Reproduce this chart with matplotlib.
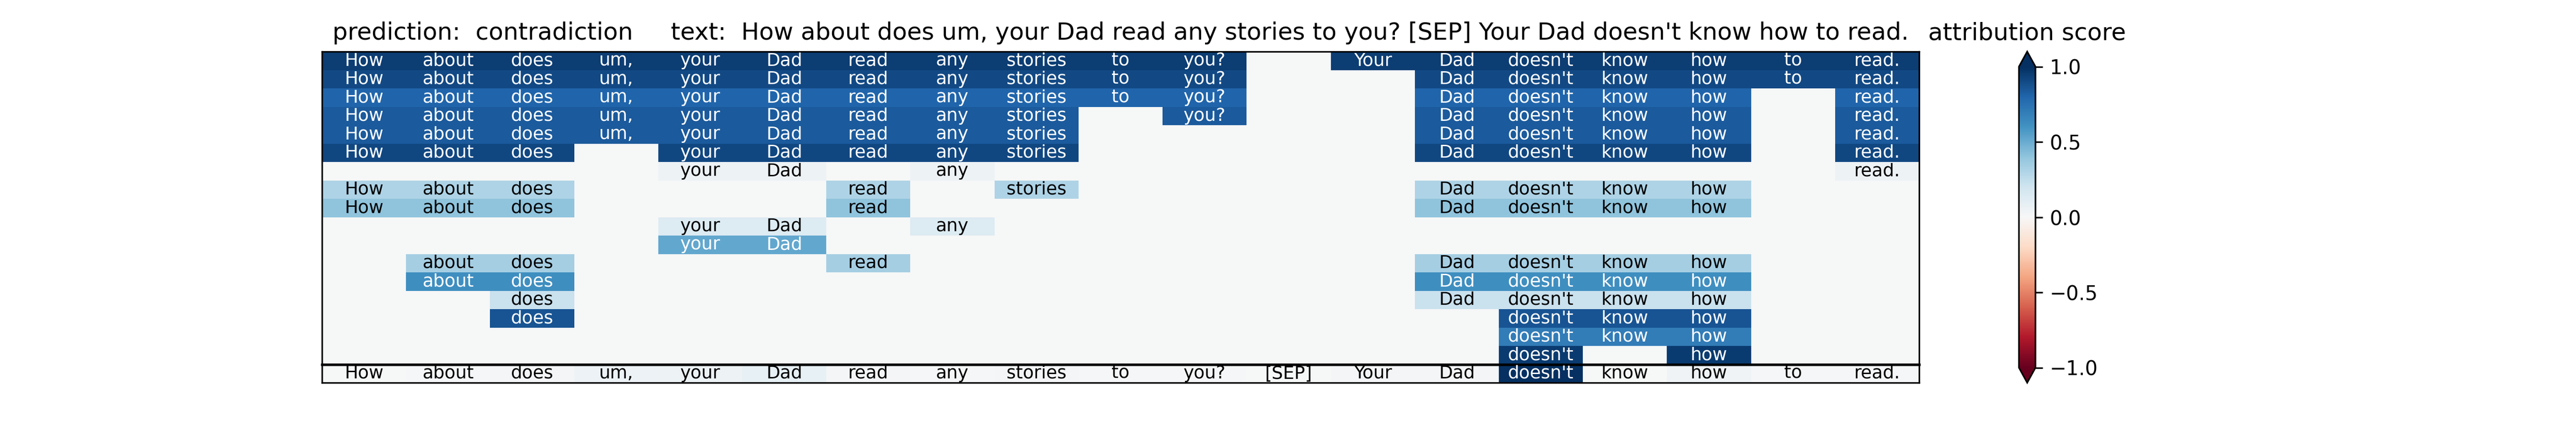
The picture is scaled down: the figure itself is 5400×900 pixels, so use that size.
import numpy as np
import matplotlib
matplotlib.use("Agg")
import matplotlib.pyplot as plt

tokens = ["How", "about", "does", "um,", "your", "Dad", "read", "any", "stories",
          "to", "you?", "[SEP]", "Your", "Dad", "doesn't", "know", "how", "to", "read."]

# which tokens each row keeps (1 = shown)
row_masks = [
    "1111111111101111111",
    "1111111111100111111",
    "1111111111100111101",
    "1111111110100111101",
    "1111111110000111101",
    "1110111110000111101",
    "0000110100000000001",
    "1110001010000111100",
    "1110001000000111100",
    "0000110100000000000",
    "0000110000000000000",
    "0110001000000111100",
    "0110000000000111100",
    "0010000000000111100",
    "0010000000000011100",
    "0000000000000011100",
    "0000000000000010100",
]
row_scores = [0.95, 0.90, 0.80, 0.84, 0.84, 0.91, 0.05, 0.31, 0.40, 0.14,
              0.52, 0.34, 0.62, 0.22, 0.86, 0.70, 0.96]

token_scores = [0.0, 0.01, 0.02, 0.06, 0.05, 0.08, 0.02, 0.01, 0.02, 0.01,
                0.01, 0.0, 0.02, 0.02, 1.0, 0.0, 0.04, 0.01, 0.01]

prediction = "contradiction"

mask = np.array([[int(c) for c in m] for m in row_masks])
scores = mask * np.array(row_scores)[:, None]
bottom = np.array(token_scores)[None, :]

fig = plt.figure(figsize=(18, 3), dpi=300)
gs = fig.add_gridspec(2, 1, height_ratios=[len(row_masks), 1], hspace=0)
ax1 = fig.add_subplot(gs[0])
ax2 = fig.add_subplot(gs[1])

im = ax1.pcolormesh(scores, cmap="RdBu", vmin=-1, vmax=1, antialiased=True)
ax1.invert_yaxis()
ax2.pcolormesh(bottom, cmap="RdBu", vmin=-1, vmax=1, antialiased=True)
ax2.invert_yaxis()

for i in range(mask.shape[0]):
    for j in range(mask.shape[1]):
        if mask[i, j]:
            c = "white" if scores[i, j] > 0.5 else "black"
            ax1.text(j + 0.5, i + 0.5, tokens[j], ha="center", va="center",
                     fontsize=9, color=c)
for j, tok in enumerate(tokens):
    c = "white" if token_scores[j] > 0.5 else "black"
    ax2.text(j + 0.5, 0.5, tok, ha="center", va="center", fontsize=9, color=c)

for ax in (ax1, ax2):
    ax.set_xticks([])
    ax.set_yticks([])
# separator between the rows and the full sentence
ax2.spines["top"].set_linewidth(1.3)

sentence = " ".join(tokens)
ax1.set_title("prediction:  " + prediction + "     text:  " + sentence)

cbar = fig.colorbar(im, ax=[ax1, ax2], extend="both")
cbar.ax.set_title("attribution score")

fig.savefig("out.png", dpi=300)
